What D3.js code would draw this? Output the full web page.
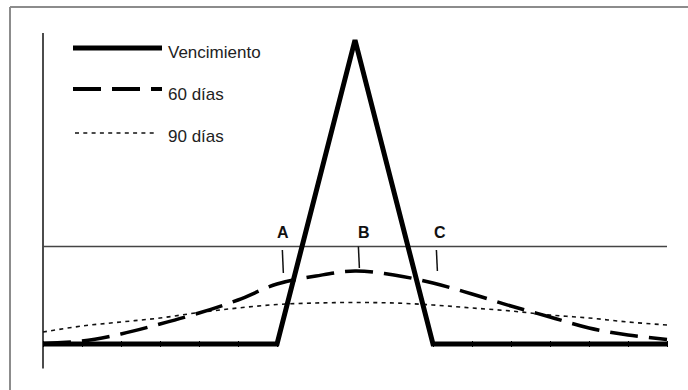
<!DOCTYPE html>
<html>
<head>
<meta charset="utf-8">
<script src="https://cdn.jsdelivr.net/npm/d3@7"></script>
<style>
  body { margin: 0; background: #fff; }
  svg { display: block; font-family: "Liberation Sans", Arial, sans-serif; }
</style>
</head>
<body>
<svg id="drawing_region"></svg>
<script>
// x in ticks (0..16), y in payoff units (0 = flat payoff)
const xTicks = d3.range(0, 17);
const flatTicks = [0, 1, 2, 3, 4, 5, 6, 10, 11, 12, 13, 14, 15, 16];
const vencimiento = [[0, 0], [6, 0], [8, 30.4], [10, 0], [16, 0]];
const dias60 = [0.05, 0.3, 1.0, 2.0, 3.1, 4.4, 6.0, 6.8, 7.3, 6.9, 6.1, 5.0, 3.8, 2.7, 1.6, 0.9, 0.45];
const dias90 = [1.2, 1.8, 2.2, 2.6, 3.15, 3.6, 3.95, 4.1, 4.15, 4.1, 3.9, 3.6, 3.3, 2.9, 2.6, 2.2, 1.9];
const strikeLevel = 9.75;
const markerLabels = ['A', 'B', 'C'];
const markerX = [6.15, 8.1, 10.1];
const markerTop = [9.4, 9.75, 9.4];
const markerBottom = [7.1, 7.6, 7.3];
const legendLabels = ['Vencimiento', '60 días', '90 días'];

class OptionChart {
  constructor(config) {
    this.config = config;
    this.init();
  }
  init() {
    let self = this;
    self.svg = d3.select(self.config.parent)
      .attr('width', self.config.width)
      .attr('height', self.config.height);
    self.x = d3.scaleLinear().domain([0, 16]).range([43, 667]);
    self.y = d3.scaleLinear().domain([-2.45, 31.1]).range([368.5, 33]);
    self.render();
  }
  render() {
    let self = this;
    const svg = self.svg, x = self.x, y = self.y;

    // frame
    svg.append('line').attr('x1', 10).attr('x2', 688).attr('y1', 7).attr('y2', 7)
      .attr('stroke', '#8c8c8c').attr('stroke-width', 2);
    svg.append('line').attr('x1', 10).attr('x2', 10).attr('y1', 7).attr('y2', 390)
      .attr('stroke', '#8c8c8c').attr('stroke-width', 2);

    // vertical axis
    svg.append('line').attr('x1', x(0)).attr('x2', x(0)).attr('y1', y(31.1)).attr('y2', y(-2.45))
      .attr('stroke', '#111').attr('stroke-width', 1.5);

    // strike level line
    svg.append('line').attr('x1', x(0)).attr('x2', x(16))
      .attr('y1', y(strikeLevel)).attr('y2', y(strikeLevel))
      .attr('stroke', '#444').attr('stroke-width', 1.5);

    const line = d3.line().x(d => x(d[0])).y(d => y(d[1]));
    const curve = d3.line().x((d, i) => x(xTicks[i])).y(d => y(d)).curve(d3.curveCatmullRom);

    svg.append('path').attr('d', curve(dias90)).attr('fill', 'none')
      .attr('stroke', '#111').attr('stroke-width', 1.6).attr('stroke-dasharray', '4,4.3');
    svg.append('path').attr('d', curve(dias60)).attr('fill', 'none')
      .attr('stroke', '#000').attr('stroke-width', 3.5).attr('stroke-dasharray', '28,11');
    svg.append('path').attr('d', line(vencimiento)).attr('fill', 'none')
      .attr('stroke', '#000').attr('stroke-width', 5).attr('stroke-linejoin', 'miter');

    // small ticks along the flat payoff
    const axis = svg.append('g').attr('transform', `translate(0,${y(0) + 3})`)
      .call(d3.axisBottom(x).tickValues(flatTicks).tickSize(-6).tickFormat(''));
    axis.select('.domain').remove();
    axis.selectAll('line').attr('stroke', '#000').attr('stroke-width', 1);

    // markers A, B, C
    markerLabels.forEach((lab, i) => {
      svg.append('line')
        .attr('x1', x(markerX[i]) - 0.5).attr('x2', x(markerX[i]) + 0.5)
        .attr('y1', y(markerTop[i])).attr('y2', y(markerBottom[i]))
        .attr('stroke', '#111').attr('stroke-width', 1.5);
      svg.append('text').attr('x', x(markerX[i]) + [0, 5, 3][i]).attr('y', 238)
        .attr('text-anchor', 'middle').attr('font-size', '16px').attr('font-weight', 'bold')
        .attr('fill', '#111').text(lab);
    });

    // legend
    const lg = svg.append('g');
    const ly = [48, 89, 133];
    const ty = [57.5, 100, 141.5];
    lg.append('line').attr('x1', 73).attr('x2', 162).attr('y1', ly[0]).attr('y2', ly[0])
      .attr('stroke', '#000').attr('stroke-width', 5);
    lg.append('line').attr('x1', 73).attr('x2', 162).attr('y1', ly[1]).attr('y2', ly[1])
      .attr('stroke', '#000').attr('stroke-width', 4).attr('stroke-dasharray', '28,11');
    lg.append('line').attr('x1', 75).attr('x2', 154).attr('y1', ly[2]).attr('y2', ly[2])
      .attr('stroke', '#111').attr('stroke-width', 1.6).attr('stroke-dasharray', '4,4.3');
    legendLabels.forEach((t, i) => {
      lg.append('text').attr('x', 168).attr('y', ty[i])
        .attr('font-size', '17px').attr('fill', '#222').text(t);
    });
  }
}

new OptionChart({ parent: '#drawing_region', width: 688, height: 390 });
</script>
</body>
</html>
